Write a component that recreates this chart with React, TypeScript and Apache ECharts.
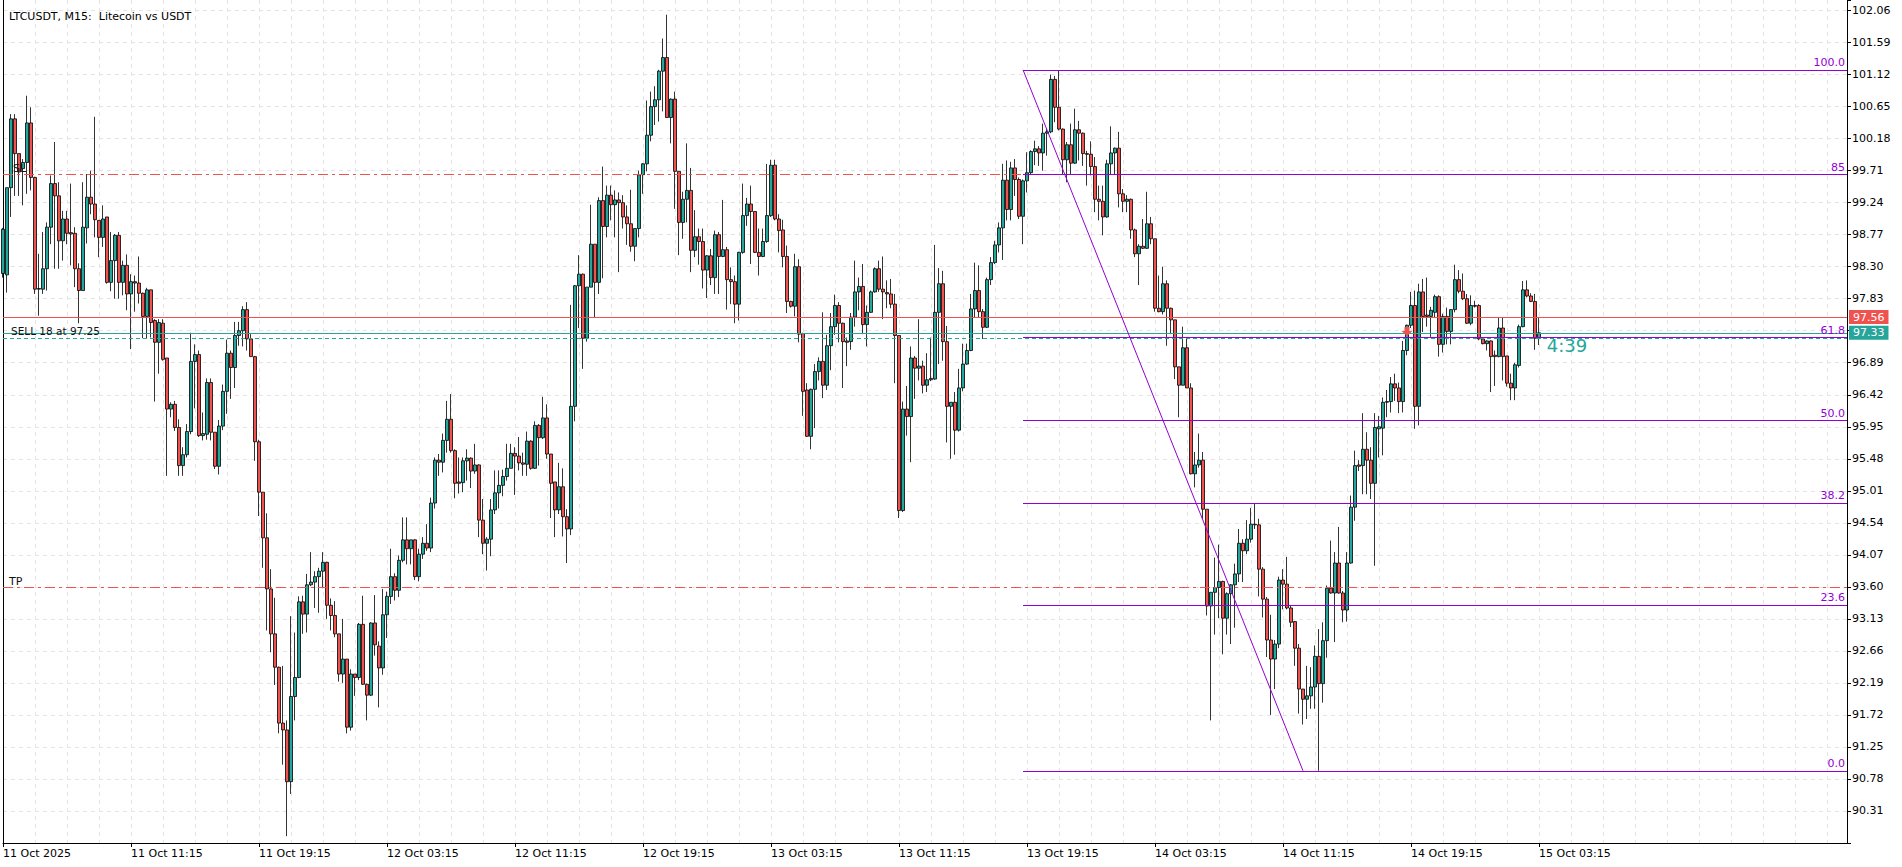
import React, { useEffect, useRef } from "react";
import * as echarts from "echarts";

// ---- Data (LTCUSDT M15, bars from 11 Oct 03:15) ----
const OPEN = [
  98.20, 98.18, 99.46, 100.47, 99.96, 99.74, 99.83, 100.41, 99.61, 97.97,
  97.97, 98.27, 98.88, 99.52, 99.34, 98.68, 99.00, 98.80, 98.79, 98.27,
  97.95, 98.87, 99.32, 99.22, 98.98, 98.73, 99.03, 98.07, 98.39, 98.76,
  98.07, 98.32, 97.90, 98.08, 98.06, 97.91, 97.57, 97.96, 97.51, 97.19,
  97.47, 96.96, 96.21, 96.28, 95.94, 95.38, 95.54, 95.88, 96.91, 97.01,
  95.82, 95.84, 96.60, 95.87, 95.37, 95.96, 96.47, 97.03, 96.82, 97.29,
  97.36, 97.67, 97.24, 96.98, 95.73, 94.99, 94.32, 93.57, 92.91, 92.42,
  91.60, 91.50, 90.74, 91.99, 92.27, 93.38, 93.20, 93.63, 93.67, 93.75,
  93.83, 93.96, 93.33, 93.18, 92.91, 92.32, 92.54, 91.54, 92.32, 92.27,
  93.05, 92.17, 92.01, 93.07, 92.73, 92.41, 93.19, 93.46, 93.75, 93.55,
  93.99, 94.29, 94.16, 94.29, 93.75, 94.08, 94.24, 94.17, 94.83, 95.46,
  95.43, 95.75, 96.06, 95.60, 95.14, 95.13, 95.45, 95.49, 95.30, 95.39,
  94.58, 94.24, 94.30, 94.73, 94.98, 95.09, 95.22, 95.34, 95.56, 95.52,
  95.42, 95.40, 95.74, 95.34, 95.97, 95.79, 96.08, 95.55, 95.14, 94.73,
  95.07, 94.63, 94.45, 96.25, 98.02, 98.19, 97.25, 98.00, 98.63, 98.07,
  99.27, 98.89, 99.35, 99.21, 99.28, 99.24, 99.03, 98.93, 98.60, 98.86,
  99.65, 99.81, 100.23, 100.65, 100.75, 101.17, 101.37, 100.49, 100.76, 99.70,
  98.95, 99.29, 99.42, 98.54, 98.74, 98.67, 98.25, 98.46, 98.14, 98.77,
  98.45, 98.55, 98.11, 98.08, 97.75, 98.51, 99.05, 99.22, 99.11, 98.51,
  98.45, 98.67, 99.05, 99.79, 99.00, 98.84, 98.45, 97.79, 97.72, 98.30,
  97.32, 96.49, 95.81, 96.50, 96.76, 96.91, 96.56, 97.14, 97.42, 97.73,
  97.47, 97.21, 97.20, 97.56, 97.93, 98.01, 97.45, 97.63, 97.93, 98.27,
  97.97, 97.92, 97.90, 97.75, 97.29, 94.72, 96.21, 96.10, 96.96, 96.81,
  96.84, 96.56, 96.66, 96.65, 97.63, 98.05, 97.20, 96.25, 96.31, 95.90,
  96.52, 96.87, 97.07, 97.68, 97.95, 97.64, 97.41, 98.11, 98.36, 98.62,
  98.87, 99.57, 99.14, 99.75, 99.58, 99.04, 99.56, 99.68, 99.99, 100.03,
  99.97, 100.26, 100.28, 101.05, 100.64, 100.32, 99.87, 100.09, 99.82, 100.31,
  100.26, 99.96, 99.95, 99.77, 99.29, 99.26, 99.03, 99.81, 99.97, 100.04,
  99.37, 99.26, 99.29, 98.84, 98.49, 98.60, 98.57, 98.93, 98.71, 97.69,
  97.64, 98.05, 97.69, 97.52, 96.83, 96.56, 97.11, 96.52, 95.26, 95.39,
  95.46, 94.74, 93.32, 93.52, 93.59, 93.68, 93.14, 93.50, 93.63, 93.79,
  94.24, 94.13, 94.30, 94.52, 94.51, 93.86, 93.42, 92.82, 92.54, 92.76,
  93.70, 93.64, 93.29, 93.09, 92.70, 92.10, 91.95, 92.00, 92.13, 92.58,
  92.18, 92.81, 93.58, 93.51, 93.95, 93.51, 93.26, 93.95, 94.77, 95.39,
  95.38, 95.62, 95.46, 95.12, 95.92, 95.93, 96.31, 96.32, 96.58, 96.52,
  96.32, 97.07, 97.44, 97.73, 96.25, 97.93, 97.59, 97.57, 97.63, 97.86,
  97.16, 97.57, 97.35, 97.67, 98.11, 97.94, 97.83, 97.47, 97.73, 97.73,
  97.24, 97.17, 97.21, 97.00, 96.98, 97.40, 96.99, 96.59, 96.52, 96.85,
  97.42, 97.96, 97.87, 97.79, 97.25,
];

const CLOSE = [
  98.85, 99.46, 100.47, 99.96, 99.69, 99.83, 100.41, 99.61, 97.97, 97.98,
  98.27, 98.88, 99.52, 99.34, 98.68, 99.00, 98.79, 98.78, 98.27, 97.95,
  98.88, 99.32, 99.22, 98.99, 98.73, 99.00, 98.07, 98.39, 98.76, 98.07,
  98.32, 97.90, 98.08, 98.06, 97.91, 97.57, 97.96, 97.48, 97.19, 97.48,
  96.94, 96.21, 96.28, 95.94, 95.38, 95.54, 95.88, 96.91, 97.01, 95.82,
  95.85, 96.60, 95.87, 95.37, 95.96, 96.47, 97.03, 96.82, 97.29, 97.36,
  97.67, 97.24, 96.98, 95.73, 94.99, 94.32, 93.57, 92.91, 92.42, 91.60,
  91.50, 90.74, 91.99, 92.27, 93.38, 93.20, 93.63, 93.67, 93.75, 93.83,
  93.96, 93.33, 93.18, 92.91, 92.32, 92.54, 91.54, 92.32, 92.27, 93.05,
  92.17, 92.01, 93.07, 92.75, 92.41, 93.19, 93.46, 93.75, 93.55, 93.99,
  94.29, 94.16, 94.29, 93.75, 94.08, 94.24, 94.17, 94.83, 95.46, 95.43,
  95.75, 96.06, 95.60, 95.12, 95.12, 95.45, 95.49, 95.30, 95.39, 94.58,
  94.24, 94.30, 94.73, 94.98, 95.09, 95.22, 95.34, 95.56, 95.52, 95.42,
  95.40, 95.74, 95.34, 95.97, 95.79, 96.08, 95.55, 95.12, 94.73, 95.07,
  94.63, 94.45, 96.25, 98.02, 98.19, 97.25, 98.00, 98.63, 98.07, 99.27,
  98.89, 99.35, 99.21, 99.28, 99.24, 99.03, 98.93, 98.60, 98.86, 99.65,
  99.81, 100.23, 100.65, 100.75, 101.17, 101.37, 100.49, 100.76, 99.70, 98.95,
  99.29, 99.42, 98.54, 98.74, 98.67, 98.25, 98.46, 98.14, 98.77, 98.45,
  98.55, 98.11, 98.08, 97.75, 98.51, 99.05, 99.22, 99.11, 98.51, 98.45,
  98.67, 99.05, 99.79, 99.00, 98.83, 98.45, 97.79, 97.72, 98.30, 97.31,
  96.47, 95.81, 96.50, 96.76, 96.91, 96.56, 97.14, 97.42, 97.73, 97.47,
  97.20, 97.19, 97.56, 97.93, 98.01, 97.45, 97.63, 97.93, 98.27, 97.97,
  97.93, 97.90, 97.75, 97.29, 94.72, 96.21, 96.10, 96.96, 96.81, 96.84,
  96.56, 96.64, 96.64, 97.63, 98.05, 97.20, 96.25, 96.31, 95.90, 96.52,
  96.87, 97.07, 97.68, 97.95, 97.64, 97.41, 98.11, 98.36, 98.62, 98.87,
  99.57, 99.14, 99.75, 99.58, 99.04, 99.56, 99.68, 99.99, 100.03, 99.97,
  100.26, 100.28, 101.05, 100.64, 100.32, 99.87, 100.09, 99.82, 100.31, 100.26,
  99.96, 99.95, 99.77, 99.29, 99.26, 99.03, 99.81, 99.97, 100.04, 99.37,
  99.26, 99.29, 98.84, 98.49, 98.60, 98.57, 98.93, 98.71, 97.69, 97.64,
  98.05, 97.69, 97.52, 96.83, 96.56, 97.11, 96.52, 95.26, 95.39, 95.46,
  94.74, 93.32, 93.52, 93.59, 93.68, 93.14, 93.50, 93.63, 93.79, 94.24,
  94.13, 94.30, 94.52, 94.51, 93.86, 93.42, 92.82, 92.54, 92.76, 93.70,
  93.64, 93.29, 93.08, 92.70, 92.10, 91.95, 92.00, 92.13, 92.58, 92.18,
  92.81, 93.58, 93.51, 93.95, 93.51, 93.26, 93.95, 94.77, 95.38, 95.37,
  95.62, 95.46, 95.12, 95.94, 95.95, 96.31, 96.32, 96.58, 96.52, 96.32,
  97.07, 97.44, 97.73, 96.25, 97.93, 97.57, 97.57, 97.66, 97.86, 97.16,
  97.57, 97.35, 97.67, 98.11, 97.94, 97.83, 97.47, 97.73, 97.72, 97.24,
  97.17, 97.21, 96.98, 96.98, 97.40, 96.98, 96.59, 96.52, 96.86, 97.42,
  97.96, 97.87, 97.79, 97.25, 97.33,
];

const LOW = [
  98.14, 97.92, 99.03, 99.34, 99.34, 99.20, 99.37, 99.42, 97.90, 97.58,
  97.90, 97.95, 98.63, 98.27, 98.27, 98.39, 98.63, 98.32, 98.00, 97.47,
  97.95, 98.64, 99.07, 98.73, 98.44, 98.59, 98.05, 97.94, 97.83, 97.83,
  97.88, 97.66, 97.09, 97.64, 97.76, 97.25, 97.25, 97.26, 96.32, 96.73,
  96.92, 95.23, 96.09, 95.89, 95.23, 95.23, 95.50, 95.84, 96.22, 95.80,
  95.75, 95.76, 95.75, 95.33, 95.25, 95.90, 96.14, 96.36, 96.52, 97.14,
  97.13, 97.07, 96.98, 95.45, 94.64, 93.88, 92.96, 92.64, 92.16, 91.45,
  90.99, 89.94, 90.56, 91.64, 92.26, 92.91, 92.93, 93.61, 93.29, 93.22,
  93.58, 93.13, 92.96, 92.86, 92.21, 92.19, 91.45, 91.49, 92.00, 92.23,
  92.16, 91.64, 92.00, 92.59, 91.83, 92.31, 92.85, 93.35, 93.40, 93.45,
  93.96, 93.93, 93.93, 93.70, 93.68, 94.01, 94.13, 94.11, 94.75, 95.23,
  95.28, 95.57, 95.57, 94.90, 94.97, 94.99, 95.16, 95.05, 95.26, 94.33,
  94.08, 93.84, 94.05, 94.67, 94.75, 94.93, 95.16, 95.34, 94.95, 95.31,
  95.23, 95.23, 95.32, 95.33, 95.38, 95.77, 95.48, 94.61, 94.33, 94.67,
  94.34, 93.95, 94.36, 96.03, 97.40, 96.80, 97.20, 98.00, 97.56, 97.90,
  98.13, 98.73, 98.98, 98.73, 98.22, 98.86, 98.62, 98.52, 98.38, 98.73,
  99.37, 99.70, 100.14, 100.38, 100.43, 100.58, 100.49, 100.11, 99.15, 98.47,
  98.71, 98.95, 98.22, 98.44, 98.33, 97.98, 97.84, 98.03, 97.90, 97.90,
  98.44, 97.67, 97.75, 97.47, 97.51, 98.49, 98.90, 98.34, 98.50, 98.17,
  98.44, 98.65, 99.03, 98.98, 98.51, 98.29, 97.62, 97.70, 97.57, 97.19,
  96.11, 95.80, 95.62, 95.93, 96.63, 96.37, 96.49, 96.78, 97.30, 97.19,
  96.52, 96.84, 97.08, 97.42, 97.66, 97.31, 97.13, 97.62, 97.92, 97.93,
  97.53, 97.69, 97.69, 96.59, 94.61, 94.70, 95.82, 95.43, 96.36, 96.63,
  96.44, 96.46, 96.62, 96.64, 96.87, 96.92, 95.72, 95.48, 95.54, 95.88,
  96.47, 96.86, 97.06, 97.56, 97.56, 97.24, 97.40, 98.03, 98.34, 98.51,
  98.40, 98.98, 98.98, 99.34, 99.00, 98.63, 99.39, 99.66, 99.79, 99.78,
  99.71, 99.93, 100.26, 100.42, 100.30, 99.66, 99.54, 99.65, 99.81, 99.86,
  99.78, 99.49, 99.64, 99.10, 98.98, 98.76, 99.02, 99.66, 99.66, 99.17,
  99.10, 99.10, 98.71, 98.44, 98.03, 98.56, 98.56, 98.63, 97.64, 97.63,
  97.60, 97.14, 97.31, 96.65, 96.09, 96.56, 96.52, 95.25, 95.06, 95.35,
  94.60, 93.18, 91.64, 92.90, 93.14, 92.61, 92.90, 92.76, 93.00, 93.67,
  93.67, 94.08, 94.25, 94.45, 93.46, 93.15, 92.57, 91.72, 92.10, 92.70,
  93.27, 93.27, 93.01, 92.44, 91.74, 91.58, 91.66, 91.81, 91.81, 90.90,
  91.90, 92.56, 93.50, 92.79, 93.50, 93.08, 93.09, 93.94, 94.57, 95.30,
  94.96, 94.96, 94.89, 93.91, 95.50, 95.53, 96.09, 96.16, 96.33, 96.15,
  96.16, 97.00, 97.40, 95.92, 95.97, 97.34, 97.42, 97.27, 97.56, 96.98,
  97.04, 97.16, 97.16, 97.63, 97.91, 97.81, 97.46, 97.44, 97.70, 97.22,
  97.16, 97.07, 96.46, 96.55, 96.97, 96.63, 96.54, 96.34, 96.34, 96.82,
  97.41, 97.85, 97.78, 97.08, 97.15,
];

const HIGH = [
  98.87, 99.46, 100.54, 100.54, 99.96, 99.88, 100.81, 100.64, 99.62, 98.49,
  98.81, 98.95, 99.64, 100.13, 99.54, 99.12, 99.12, 99.52, 98.88, 98.35,
  99.54, 99.66, 99.71, 100.50, 98.98, 99.20, 99.03, 98.81, 98.78, 98.81,
  98.39, 98.48, 98.19, 98.17, 98.45, 97.92, 97.99, 97.96, 97.53, 97.53,
  97.53, 96.96, 96.31, 96.33, 96.06, 95.65, 95.99, 97.33, 97.16, 97.07,
  96.16, 96.66, 96.66, 95.87, 96.05, 96.57, 97.23, 97.07, 97.49, 97.49,
  97.72, 97.78, 97.31, 96.99, 95.76, 94.99, 94.68, 93.86, 93.44, 92.43,
  92.44, 91.64, 93.17, 92.93, 93.46, 93.47, 93.79, 94.11, 93.83, 93.88,
  94.11, 93.97, 93.43, 93.39, 92.91, 93.13, 92.54, 92.39, 92.32, 93.07,
  93.47, 92.18, 93.08, 93.48, 92.80, 93.57, 93.53, 94.16, 93.80, 94.06,
  94.62, 94.62, 94.29, 94.30, 94.16, 94.33, 94.52, 94.91, 95.50, 95.55,
  95.85, 96.33, 96.43, 95.62, 95.50, 95.50, 95.62, 95.50, 95.70, 95.40,
  94.89, 94.33, 94.89, 95.31, 95.31, 95.32, 95.70, 95.70, 95.65, 95.80,
  95.57, 95.88, 95.75, 96.03, 95.99, 96.39, 96.28, 95.55, 95.14, 95.42,
  95.34, 94.74, 97.74, 98.03, 98.47, 98.20, 98.00, 99.21, 98.63, 99.32,
  99.77, 99.49, 99.49, 99.42, 99.39, 99.35, 99.20, 99.43, 98.86, 99.71,
  99.82, 100.74, 100.87, 100.95, 101.19, 101.65, 102.00, 100.77, 100.87, 99.70,
  99.40, 100.11, 99.75, 99.13, 98.86, 98.86, 98.47, 98.56, 98.83, 98.81,
  99.28, 98.59, 98.29, 98.17, 98.52, 99.52, 99.31, 99.49, 99.11, 98.86,
  98.86, 99.81, 99.87, 99.87, 99.07, 98.99, 98.61, 97.80, 98.49, 98.41,
  97.33, 96.59, 96.51, 96.87, 96.97, 97.63, 97.30, 97.62, 97.89, 97.78,
  97.48, 97.26, 97.62, 98.39, 98.14, 98.34, 97.73, 97.95, 98.29, 98.39,
  98.45, 98.10, 98.12, 97.90, 97.29, 96.32, 96.55, 97.13, 96.99, 97.53,
  96.92, 97.03, 97.26, 98.62, 98.28, 98.24, 97.43, 96.31, 96.46, 96.80,
  97.17, 97.17, 97.90, 98.36, 98.32, 97.68, 98.14, 98.44, 98.68, 98.95,
  99.81, 99.86, 99.84, 99.88, 99.61, 99.58, 99.98, 100.01, 100.15, 100.07,
  100.40, 100.33, 101.12, 101.10, 101.18, 100.33, 100.13, 100.40, 100.62, 100.44,
  100.27, 100.00, 100.14, 99.91, 99.49, 99.49, 99.87, 100.36, 100.05, 100.28,
  99.44, 99.35, 99.30, 98.86, 98.63, 99.00, 99.40, 99.03, 98.71, 98.17,
  98.30, 98.10, 97.70, 97.52, 96.83, 97.42, 97.26, 96.59, 95.58, 95.85,
  95.58, 94.74, 93.52, 94.03, 94.22, 93.69, 93.52, 93.64, 93.94, 94.45,
  94.30, 94.58, 94.76, 94.83, 94.60, 93.89, 93.45, 93.19, 92.82, 93.75,
  93.86, 94.04, 93.32, 93.10, 92.76, 92.10, 92.44, 92.42, 92.74, 92.98,
  93.08, 93.62, 94.28, 94.11, 94.48, 93.54, 94.11, 94.94, 95.60, 95.46,
  96.15, 95.87, 95.65, 96.15, 96.11, 96.38, 96.49, 96.68, 96.73, 96.60,
  97.21, 97.45, 97.93, 97.95, 98.05, 98.12, 98.14, 97.71, 97.89, 97.88,
  97.61, 97.70, 97.67, 98.33, 98.25, 98.20, 97.90, 97.88, 97.80, 97.75,
  97.25, 97.22, 97.22, 97.07, 97.56, 97.56, 96.99, 96.73, 96.89, 97.45,
  98.09, 98.10, 97.91, 97.90, 97.56,
];

const TIME_LABELS = [
  "11 Oct 2025", "11 Oct 11:15", "11 Oct 19:15", "12 Oct 03:15", "12 Oct 11:15",
  "12 Oct 19:15", "13 Oct 03:15", "13 Oct 11:15", "13 Oct 19:15", "14 Oct 03:15",
  "14 Oct 11:15", "14 Oct 19:15", "15 Oct 03:15",
];

const PRICE_TICKS = [
  "90.31", "90.78", "91.25", "91.72", "92.19", "92.66", "93.13", "93.60", "94.07",
  "94.54", "95.01", "95.48", "95.95", "96.42", "96.89", "97.83", "98.30", "98.77",
  "99.24", "99.71", "100.18", "100.65", "101.12", "101.59", "102.06",
];

const FIB_LABELS = ["100.0", "85", "61.8", "50.0", "38.2", "23.6", "0.0"];
const FIB_PRICES = [101.19, 99.65, 97.26, 96.04, 94.83, 93.33, 90.90];
const FIB_START_BAR = 255;
const FIB_END_BAR = 325;

const ASK_PRICE = 97.56;
const BID_PRICE = 97.33;
const SELL_PRICE = 97.25;
const SL_PRICE = 99.65;
const TP_PRICE = 93.59;
const SELL_BAR = 351;
const SELL_ARROW_PRICE = 97.35;
const TIMER_TEXT = "4:39";
const TIMER_BAR = 391;
const TIMER_PRICE = 97.15;

const SLOT_COUNT = 462; // bars plus empty right margin of the chart
const LAST_LABELLED_BAR = 384;

const FONT = "DejaVu Sans";
const BULL = "#26a69a";
const BEAR = "#ef5350";
const FIB = "#9400d3";
const GRID_LINE = "#e4e4e4";

export default function App() {
  const ref = useRef<HTMLDivElement>(null);

  useEffect(() => {
    if (!ref.current) return;
    const chart = echarts.init(ref.current, undefined, { renderer: "svg" });

    const categories = Array.from({ length: SLOT_COUNT }, (_, i) => String(i));
    const candles = OPEN.map((o, i) => [o, CLOSE[i], LOW[i], HIGH[i]]);
    const lastIdx = SLOT_COUNT - 1;
    const isLabelIdx = (i: number) => i % 32 === 0 && i <= LAST_LABELLED_BAR;

    const dashDot = [10, 4, 3, 4];

    const fibLines = FIB_PRICES.map((p, k) => [
      {
        coord: [String(FIB_START_BAR), p],
        lineStyle: { color: FIB, width: 1, type: "solid" },
        label: {
          show: true,
          position: "insideEndTop",
          formatter: FIB_LABELS[k],
          color: FIB,
          fontFamily: FONT,
          fontSize: 11,
          distance: [2, 2],
        },
      },
      { coord: [String(lastIdx), p] },
    ]);

    const option: any = {
      animation: false,
      backgroundColor: "#ffffff",
      title: {
        text: "LTCUSDT, M15:  Litecoin vs USDT",
        left: 4,
        top: 6,
        textStyle: {
          fontFamily: FONT,
          fontSize: 11,
          fontWeight: "normal",
          color: "#000",
        },
      },
      grid: {
        left: 2,
        right: 55,
        top: 0,
        bottom: 24,
        show: false,
      },
      xAxis: {
        type: "category",
        data: categories,
        boundaryGap: false,
        axisLine: { show: true, lineStyle: { color: "#000", width: 1 } },
        axisTick: {
          show: true,
          length: 4,
          interval: (i: number) => isLabelIdx(i),
          lineStyle: { color: "#000" },
        },
        axisLabel: {
          interval: (i: number) => isLabelIdx(i),
          formatter: (_v: string, i: number) => TIME_LABELS[Math.round(i / 32)] ?? "",
          align: "left",
          margin: 5,
          fontFamily: FONT,
          fontSize: 11,
          color: "#000",
        },
        splitLine: {
          show: true,
          interval: (i: number) => i % 8 === 0 && i > 0,
          lineStyle: { color: GRID_LINE, type: [4, 4], width: 1 },
        },
      },
      yAxis: [
        {
          type: "value",
          position: "right",
          min: 89.84,
          max: 102.215,
          interval: 0.47,
          axisLine: { show: true, lineStyle: { color: "#000", width: 1 } },
          axisTick: { show: true, length: 4, lineStyle: { color: "#000" } },
          axisLabel: {
            margin: 5,
            formatter: (v: number) => {
              const s = v.toFixed(2);
              return PRICE_TICKS.includes(s) ? s : "";
            },
            fontFamily: FONT,
            fontSize: 11,
            color: "#000",
          },
          splitLine: {
            show: true,
            showMinLine: false,
            showMaxLine: false,
            lineStyle: { color: GRID_LINE, type: [4, 4], width: 1 },
          },
        },
        {
          type: "value",
          position: "left",
          min: 89.84,
          max: 102.215,
          axisLine: { show: true, onZero: false, lineStyle: { color: "#000", width: 1 } },
          axisTick: { show: false },
          axisLabel: { show: false },
          splitLine: { show: false },
        },
      ],
      series: [
        {
          type: "candlestick",
          data: candles,
          yAxisIndex: 0,
          barWidth: 3,
          z: 3,
          itemStyle: {
            color: BULL,
            color0: BEAR,
            borderColor: "#000",
            borderColor0: "#000",
            borderColorDoji: "#000",
            borderWidth: 0.8,
          },
          markLine: {
            silent: true,
            symbol: "none",
            animation: false,
            label: { show: false },
            data: [
              {
                yAxis: SL_PRICE,
                lineStyle: { color: BEAR, width: 1, type: dashDot },
                label: {
                  show: true,
                  position: "insideStartTop",
                  formatter: "SL",
                  color: "#111",
                  fontFamily: FONT,
                  fontSize: 11,
                  distance: [10, 1],
                },
              },
              {
                yAxis: TP_PRICE,
                lineStyle: { color: BEAR, width: 1, type: dashDot },
                label: {
                  show: true,
                  position: "insideStartTop",
                  formatter: "TP",
                  color: "#111",
                  fontFamily: FONT,
                  fontSize: 11,
                  distance: [6, 1],
                },
              },
              {
                yAxis: SELL_PRICE,
                lineStyle: { color: BULL, width: 1, type: [4, 3] },
                label: {
                  show: true,
                  position: "insideStartTop",
                  formatter: "SELL 18 at 97.25",
                  color: "#111",
                  fontFamily: FONT,
                  fontSize: 10.5,
                  distance: [8, 2],
                },
              },
              {
                yAxis: ASK_PRICE,
                lineStyle: { color: BEAR, width: 1, type: "solid" },
                label: {
                  show: true,
                  position: "end",
                  formatter: ASK_PRICE.toFixed(2),
                  color: "#fff",
                  backgroundColor: BEAR,
                  padding: [2, 4, 1, 4],
                  fontFamily: FONT,
                  fontSize: 11,
                  distance: 2,
                },
              },
              {
                yAxis: BID_PRICE,
                lineStyle: { color: BULL, width: 1, type: "solid" },
                label: {
                  show: true,
                  position: "end",
                  formatter: BID_PRICE.toFixed(2),
                  color: "#fff",
                  backgroundColor: BULL,
                  padding: [2, 4, 1, 4],
                  fontFamily: FONT,
                  fontSize: 11,
                  distance: 2,
                },
              },
              ...fibLines,
              [
                {
                  coord: [String(FIB_START_BAR), FIB_PRICES[0]],
                  lineStyle: { color: FIB, width: 1, type: "solid" },
                },
                { coord: [String(FIB_END_BAR), FIB_PRICES[FIB_PRICES.length - 1]] },
              ],
            ],
          },
          markPoint: {
            silent: true,
            animation: false,
            data: [
              {
                coord: [String(SELL_BAR), SELL_ARROW_PRICE],
                symbol: "path://M3,0L8,0L8,4L11,4L5.5,9L0,4L3,4Z",
                symbolSize: [11, 9],
                itemStyle: { color: BEAR },
                label: { show: false },
              },
              {
                coord: [String(TIMER_BAR), TIMER_PRICE],
                symbol: "rect",
                symbolSize: 1,
                itemStyle: { color: "transparent" },
                label: {
                  show: true,
                  position: "inside",
                  formatter: TIMER_TEXT,
                  color: BULL,
                  fontFamily: FONT,
                  fontSize: 18,
                },
              },
            ],
          },
        },
      ],
    };

    chart.setOption(option);
    return () => chart.dispose();
  }, []);

  return (
    <div
      ref={ref}
      style={{
        position: "fixed",
        left: 0,
        top: 0,
        width: 1902,
        height: 867,
        background: "#fff",
      }}
    />
  );
}
